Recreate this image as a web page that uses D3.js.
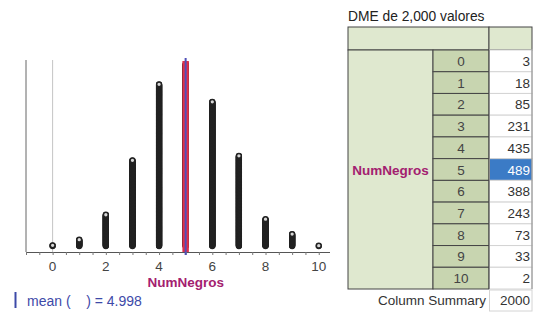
<!DOCTYPE html>
<html>
<head>
<meta charset="utf-8">
<script src="https://cdn.jsdelivr.net/npm/d3@7"></script>
<style>
  body { margin: 0; background: white; }
  text { font-family: "Liberation Sans", Arial, sans-serif; }
</style>
</head>
<body>
<div id="canvas"></div>
<script>
var w = 544;
var h = 324;

// data
var bins = [0, 1, 2, 3, 4, 5, 6, 7, 8, 9, 10];
var counts = [3, 18, 85, 231, 435, 489, 388, 243, 73, 33, 2];
var xTicks = [0, 2, 4, 6, 8, 10];
var meanValue = 4.998;
var total = 2000;
var varName = "NumNegros";
var tableTitle = "DME de 2,000 valores";

var xScale = d3.scaleLinear()
               .domain([-1, 10.4])
               .range([26, 329.4]);

var yScale = d3.scaleLinear()
               .domain([0, 500])
               .range([246.4, 60.1]);

var canvas = d3.select("#canvas")
               .append("svg")
               .attr("width", w)
               .attr("height", h)
               .style("background-color", "white");

// axis lines
canvas.append("line")
    .attr("x1", 26).attr("x2", 26)
    .attr("y1", 60).attr("y2", 252)
    .attr("stroke", "#666").attr("stroke-width", 1);

canvas.append("line")
    .attr("x1", xScale(0)).attr("x2", xScale(0))
    .attr("y1", 60).attr("y2", 252)
    .attr("stroke", "#c4c4c4").attr("stroke-width", 1);

var xAxis = d3.axisBottom(xScale)
    .tickValues(d3.range(-1, 10.5, 0.5))
    .tickSize(3)
    .tickFormat("");

var gx = canvas.append("g")
    .attr("transform", "translate(0, 252)")
    .call(xAxis);
gx.select(".domain").attr("stroke", "#555").attr("d", "M26,0.5H330");
gx.selectAll(".tick line").attr("stroke", "#777");

canvas.selectAll(".xlabel")
    .data(xTicks)
    .join("text")
    .attr("class", "xlabel")
    .attr("x", d => xScale(d))
    .attr("y", 271)
    .attr("text-anchor", "middle")
    .attr("font-size", 13.5)
    .attr("fill", "#444")
    .text(d => d);

canvas.append("text")
    .attr("x", xScale(5))
    .attr("y", 287)
    .attr("text-anchor", "middle")
    .attr("font-size", 13.5)
    .attr("font-weight", "bold")
    .attr("fill", "#a3206f")
    .text(varName);

// dot stacks
var dots = [];
bins.forEach(function(b, i) {
  for (var k = 1; k <= counts[i]; k++) dots.push({bin: b, k: k});
});

canvas.append("g")
    .selectAll("circle")
    .data(dots)
    .join("circle")
    .attr("cx", d => xScale(d.bin))
    .attr("cy", d => yScale(d.k))
    .attr("r", 2.4)
    .attr("fill", "#d8d8d8")
    .attr("stroke", "#222")
    .attr("stroke-width", 1.5);

// mean line
canvas.append("line")
    .attr("x1", xScale(meanValue)).attr("x2", xScale(meanValue))
    .attr("y1", 61).attr("y2", 252)
    .attr("stroke", "#e0304a").attr("stroke-width", 6.5);
canvas.append("line")
    .attr("x1", xScale(meanValue)).attr("x2", xScale(meanValue))
    .attr("y1", 58).attr("y2", 255)
    .attr("stroke", "#5050b8").attr("stroke-width", 2);

// mean text
canvas.append("line")
    .attr("x1", 15.5).attr("x2", 15.5)
    .attr("y1", 292).attr("y2", 308)
    .attr("stroke", "#3d4aa8").attr("stroke-width", 2);
canvas.append("text")
    .attr("x", 27)
    .attr("y", 306)
    .attr("font-size", 14)
    .attr("fill", "#3d4aa8")
    .attr("xml:space", "preserve")
    .text("mean (    ) = " + meanValue);

// table
var tx0 = 348, tx1 = 433, tx2 = 489, tx3 = 532;
var headTop = 27, rowTop = 50;
var rowScale = d3.scaleBand()
    .domain(bins)
    .range([rowTop, 289])
    .paddingInner(0);

canvas.append("text")
    .attr("x", 348)
    .attr("y", 21)
    .attr("font-size", 13.8)
    .attr("fill", "#222")
    .text(tableTitle);

var tbl = canvas.append("g");

// header row
tbl.append("rect")
    .attr("x", tx0).attr("y", headTop)
    .attr("width", tx2 - tx0).attr("height", rowTop - headTop)
    .attr("fill", "#dfe8cf").attr("stroke", "#444").attr("stroke-width", 1);
tbl.append("rect")
    .attr("x", tx2).attr("y", headTop)
    .attr("width", tx3 - tx2).attr("height", rowTop - headTop)
    .attr("fill", "#dfe8cf").attr("stroke", "#444").attr("stroke-width", 1);

// group column
tbl.append("rect")
    .attr("x", tx0).attr("y", rowTop)
    .attr("width", tx1 - tx0).attr("height", 289 - rowTop)
    .attr("fill", "#dfe8cf").attr("stroke", "#444").attr("stroke-width", 1);
tbl.append("text")
    .attr("x", (tx0 + tx1) / 2)
    .attr("y", rowScale(5) + rowScale.bandwidth() / 2 + 5)
    .attr("text-anchor", "middle")
    .attr("font-size", 13.5)
    .attr("font-weight", "bold")
    .attr("fill", "#a3206f")
    .text(varName);

// value label cells
tbl.selectAll(".lab")
    .data(bins)
    .join("rect")
    .attr("class", "lab")
    .attr("x", tx1).attr("y", d => rowScale(d))
    .attr("width", tx2 - tx1).attr("height", rowScale.bandwidth())
    .attr("fill", "#c8d5b0").attr("stroke", "#444").attr("stroke-width", 1);
tbl.selectAll(".labt")
    .data(bins)
    .join("text")
    .attr("class", "labt")
    .attr("x", (tx1 + tx2) / 2)
    .attr("y", d => rowScale(d) + rowScale.bandwidth() / 2 + 5)
    .attr("text-anchor", "middle")
    .attr("font-size", 13.5)
    .attr("fill", "#444")
    .text(d => d);

// count cells
tbl.selectAll(".cnt")
    .data(bins)
    .join("rect")
    .attr("class", "cnt")
    .attr("x", tx2 + 0.5).attr("y", d => rowScale(d))
    .attr("width", tx3 - tx2 - 0.5).attr("height", rowScale.bandwidth())
    .attr("fill", d => d === 5 ? "#3b7bc6" : "white")
    .attr("stroke", "#d4d4d4").attr("stroke-width", 1);
tbl.selectAll(".cntt")
    .data(bins)
    .join("text")
    .attr("class", "cntt")
    .attr("x", tx3 - 2)
    .attr("y", d => rowScale(d) + rowScale.bandwidth() / 2 + 5)
    .attr("text-anchor", "end")
    .attr("font-size", 13.5)
    .attr("fill", d => d === 5 ? "white" : "#333")
    .text((d, i) => counts[i]);

tbl.append("line")
    .attr("x1", tx2).attr("x2", tx2)
    .attr("y1", rowTop).attr("y2", 289)
    .attr("stroke", "#444");
tbl.append("line")
    .attr("x1", tx3).attr("x2", tx3)
    .attr("y1", rowTop).attr("y2", 289)
    .attr("stroke", "#888");

// column summary
tbl.append("rect")
    .attr("x", tx2 + 0.5).attr("y", 290)
    .attr("width", tx3 - tx2 - 0.5).attr("height", 21)
    .attr("fill", "white").attr("stroke", "#d4d4d4");
tbl.append("text")
    .attr("x", tx3 - 2)
    .attr("y", 305)
    .attr("text-anchor", "end")
    .attr("font-size", 13.5)
    .attr("fill", "#333")
    .text(total);
tbl.append("text")
    .attr("x", tx2 - 3)
    .attr("y", 305)
    .attr("text-anchor", "end")
    .attr("font-size", 13.5)
    .attr("fill", "#333")
    .text("Column Summary");
</script>
</body>
</html>
